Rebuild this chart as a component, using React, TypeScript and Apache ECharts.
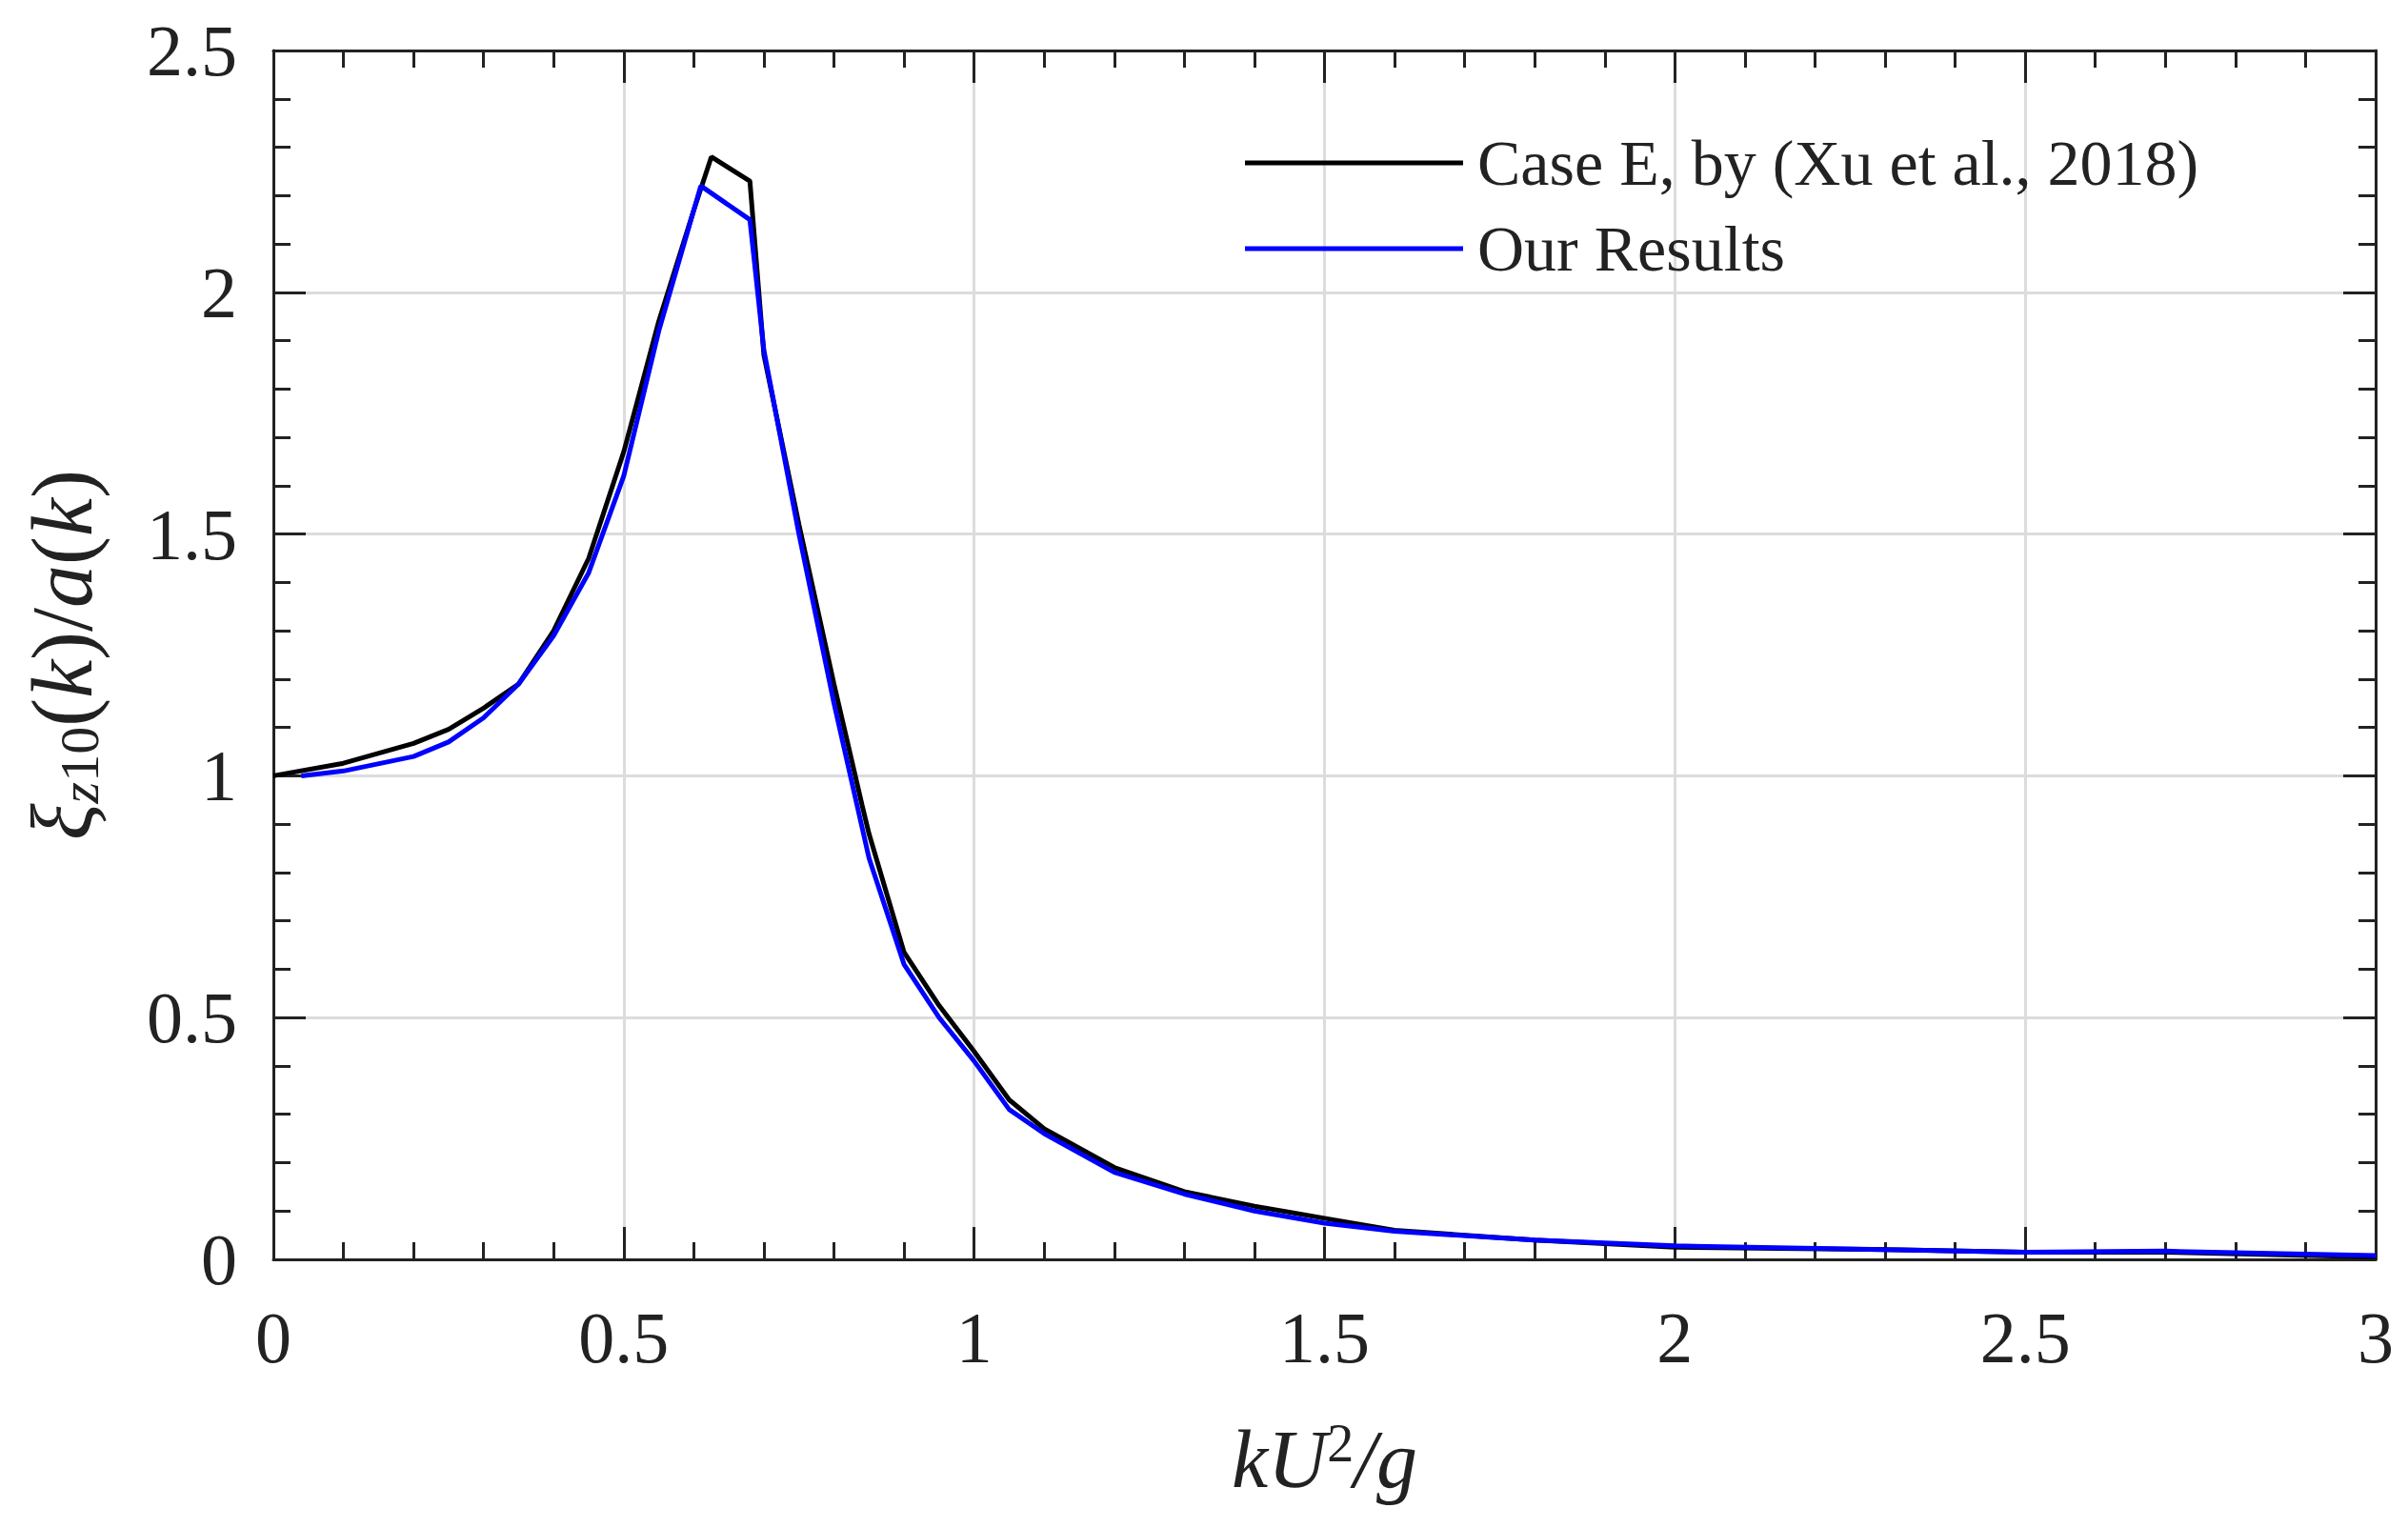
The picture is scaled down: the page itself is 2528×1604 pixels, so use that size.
import React, { useEffect, useRef } from "react";
import * as echarts from "echarts";

const xuX = [0, 0.1, 0.2, 0.25, 0.3, 0.35, 0.4, 0.45, 0.5, 0.55, 0.6, 0.625, 0.68, 0.7, 0.75, 0.8, 0.84, 0.85, 0.9, 0.95, 1.0, 1.05, 1.1, 1.2, 1.3, 1.4, 1.5, 1.6, 1.8, 2.0, 2.3, 2.5, 2.7, 3.0];
const xuY = [1.0, 1.026, 1.067, 1.096, 1.14, 1.19, 1.3, 1.45, 1.67, 1.94, 2.17, 2.28, 2.23, 1.87, 1.52, 1.19, 0.94, 0.88, 0.635, 0.525, 0.43, 0.33, 0.27, 0.19, 0.14, 0.11, 0.085, 0.06, 0.04, 0.025, 0.02, 0.015, 0.015, 0.005];

const ourX = [0.04, 0.1, 0.2, 0.25, 0.3, 0.35, 0.4, 0.45, 0.5, 0.55, 0.61, 0.68, 0.7, 0.75, 0.8, 0.85, 0.9, 0.95, 1.0, 1.05, 1.1, 1.2, 1.3, 1.4, 1.5, 1.6, 1.8, 2.0, 2.3, 2.5, 2.7, 3.0];
const ourY = [1.0, 1.01, 1.04, 1.07, 1.12, 1.19, 1.29, 1.42, 1.62, 1.92, 2.22, 2.15, 1.88, 1.5, 1.15, 0.83, 0.61, 0.5, 0.41, 0.31, 0.26, 0.18, 0.135, 0.1, 0.075, 0.058, 0.04, 0.028, 0.02, 0.015, 0.017, 0.008];

const seriesNames = ["Case E, by (Xu et al., 2018)", "Our Results"];
const font = "Liberation Serif";

const tickStyle = (show: boolean) => ({
  axisLine: { show: true, onZero: false, lineStyle: { color: "#222", width: 3 } },
  axisTick: { show: true, inside: true, length: 34, lineStyle: { color: "#222", width: 3 } },
  minorTick: { show: true, splitNumber: 5, length: 18, lineStyle: { color: "#222", width: 3 } },
  axisLabel: { show, color: "#222", fontFamily: font, fontSize: 76 },
});

export default function App() {
  const ref = useRef<HTMLDivElement>(null);
  useEffect(() => {
    if (!ref.current) return;
    const chart = echarts.init(ref.current, undefined, { renderer: "svg" });
    const xAxisBase = { type: "value", min: 0, max: 3, interval: 0.5 };
    const yAxisBase = { type: "value", min: 0, max: 2.5, interval: 0.5 };
    chart.setOption({
      animation: false,
      backgroundColor: "#fff",
      grid: { left: 287, right: 34, top: 53, bottom: 282 },
      legend: {
        orient: "vertical",
        left: 1302,
        top: 132,
        itemWidth: 229,
        itemHeight: 5,
        itemGap: 22,
        icon: "rect",
        textStyle: { fontFamily: font, fontSize: 68, color: "#222", padding: [0, 0, 0, 10] },
        data: seriesNames,
      },
      xAxis: [
        {
          ...xAxisBase,
          position: "bottom",
          ...tickStyle(true),
          axisLabel: { color: "#222", fontFamily: font, fontSize: 76, margin: 44 },
          splitLine: { show: true, lineStyle: { color: "#dcdcdc", width: 3 } },
          name: "{i|kU}{sup|2}{i|/g}",
          nameLocation: "middle",
          nameGap: 165,
          nameTextStyle: {
            rich: {
              i: { fontFamily: font, fontStyle: "italic", fontSize: 86, color: "#222" },
              sup: { fontFamily: font, fontSize: 56, color: "#222", verticalAlign: "top", padding: [0, 0, 34, 0] },
            },
          },
        },
        { ...xAxisBase, position: "top", ...tickStyle(false), splitLine: { show: false } },
      ],
      yAxis: [
        {
          ...yAxisBase,
          position: "left",
          ...tickStyle(true),
          axisLabel: { color: "#222", fontFamily: font, fontSize: 76, margin: 38 },
          splitLine: { show: true, lineStyle: { color: "#dcdcdc", width: 3 } },
          name: "{i|ξ}{sub|z}{subn|10}{t|(}{i|k}{t|)/}{i|a}{t|(}{i|k}{t|)}",
          nameLocation: "middle",
          nameGap: 175,
          nameTextStyle: {
            rich: {
              i: { fontFamily: font, fontStyle: "italic", fontSize: 90, color: "#222" },
              t: { fontFamily: font, fontSize: 90, color: "#222" },
              sub: { fontFamily: font, fontStyle: "italic", fontSize: 58, color: "#222", padding: [36, 0, 0, 0] },
              subn: { fontFamily: font, fontSize: 58, color: "#222", padding: [36, 0, 0, 0] },
            },
          },
        },
        { ...yAxisBase, position: "right", ...tickStyle(false), splitLine: { show: false } },
      ],
      series: [
        {
          name: seriesNames[0],
          type: "line",
          data: xuX.map((x, i) => [x, xuY[i]]),
          showSymbol: false,
          smooth: false,
          lineStyle: { color: "#000", width: 5 },
          itemStyle: { color: "#000" },
        },
        {
          name: seriesNames[1],
          type: "line",
          data: ourX.map((x, i) => [x, ourY[i]]),
          showSymbol: false,
          smooth: false,
          lineStyle: { color: "#0000ff", width: 5 },
          itemStyle: { color: "#0000ff" },
        },
      ],
    });
    return () => chart.dispose();
  }, []);
  return <div ref={ref} style={{ position: "absolute", left: 0, top: 0, width: 2528, height: 1604 }} />;
}
